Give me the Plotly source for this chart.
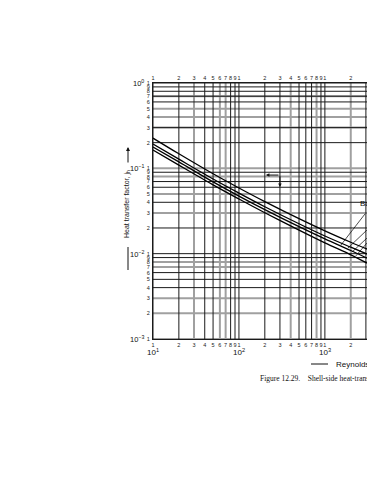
import math
import plotly.graph_objects as go

# ---- data ----
re_vals = [10, 20, 50, 100, 200, 500, 1000, 2000, 3090]
jh_line1 = [0.226, 0.148, 0.0863, 0.0588, 0.0407, 0.0257, 0.0185, 0.0136, 0.01132]
jh_line2 = [0.193, 0.128, 0.0750, 0.0513, 0.0355, 0.0224, 0.0161, 0.0119, 0.00989]
jh_line3 = [0.178, 0.119, 0.0693, 0.0473, 0.0328, 0.0207, 0.0149, 0.0109, 0.00887]
jh_line4 = [0.164, 0.109, 0.0640, 0.0437, 0.0302, 0.0189, 0.0134, 0.0097, 0.00776]

# leader lines from curves to the (cropped) baffle-cut labels: (Re0, jh0, Re1, jh1)
leader_lines = [
    (1535, 0.0126, 2920, 0.0291),
    (1850, 0.0116, 3080, 0.0189),
    (2060, 0.0104, 3080, 0.0152),
    (2290, 0.0094, 3080, 0.0133),
]

x_digits = ["1", "2", "3", "4", "5", "6", "7", "8", "9"]
x_decades = [10, 100, 1000]
y_decades = [0.001, 0.01, 0.1, 1]
x_tickvals = [m * d for d in x_decades for m in range(1, 10)]
x_ticktext = [x_digits[m - 1] for d in x_decades for m in range(1, 10)]
y_tickvals = [m * d for d in [0.001, 0.01, 0.1] for m in range(1, 10)] + [1]
y_ticktext = [str(m) for d in [0.001, 0.01, 0.1] for m in range(1, 10)] + ["1"]

x_gray = [30, 60, 70, 400, 800, 2000]
y_gray = [0.7, 0.5, 0.4, 0.3, 0.1, 0.08, 0.05, 0.03, 0.008, 0.007, 0.003, 0.002, 0.001]

XMIN, XMAX = 10, 3090
YMIN, YMAX = 0.001, 1.0

fig = go.Figure()

def grid_trace(vals, vertical, color, width):
    xs, ys = [], []
    for v in vals:
        if vertical:
            xs += [v, v, None]; ys += [YMIN, YMAX, None]
        else:
            xs += [XMIN, XMAX * 1.2, None]; ys += [v, v, None]
    return go.Scatter(x=xs, y=ys, mode="lines", line=dict(color=color, width=width),
                      hoverinfo="skip", showlegend=False)

x_black = [v for v in x_tickvals if v not in x_gray]
y_black = [v for v in y_tickvals if v not in y_gray]
fig.add_trace(grid_trace(x_gray, True, "#a0a0a0", 2))
fig.add_trace(grid_trace(y_gray, False, "#a0a0a0", 2))
fig.add_trace(grid_trace(x_black, True, "#1a1a1a", 1))
fig.add_trace(grid_trace(y_black, False, "#1a1a1a", 1))

for jh in [jh_line1, jh_line2, jh_line3, jh_line4]:
    fig.add_trace(go.Scatter(x=re_vals, y=jh, mode="lines", line=dict(color="black", width=1.3, shape="spline"),
                             showlegend=False, hoverinfo="skip"))

for (a, b, c, d) in leader_lines:
    fig.add_trace(go.Scatter(x=[a, c], y=[b, d], mode="lines", line=dict(color="black", width=0.7),
                             showlegend=False, hoverinfo="skip"))

# top axis trace (for the top digit labels)
fig.add_trace(go.Scatter(x=[XMIN, XMAX], y=[YMIN, YMIN], xaxis="x2", mode="lines",
                         line=dict(width=0), showlegend=False, hoverinfo="skip"))

W, H = 367, 480
L, R, T, B = 153, 0, 83, 141
pw, ph = W - L - R, H - T - B

def px(x):
    return (x - L) / pw

def py(y):
    return (H - B - y) / ph

font = "Liberation Sans, Arial, sans-serif"
axis_common = dict(type="log", range=[math.log10(XMIN), math.log10(XMAX)], tickvals=x_tickvals,
                   ticktext=x_ticktext, showgrid=False, zeroline=False, ticks="", tickangle=0,
                   tickfont=dict(size=5.5, family=font, color="#222"), showline=True,
                   linecolor="#1a1a1a", linewidth=1, ticklabelstandoff=0)
fig.update_layout(
    width=W, height=H, margin=dict(l=L, r=R, t=T, b=B),
    paper_bgcolor="white", plot_bgcolor="white",
    xaxis=dict(**axis_common, side="bottom"),
    xaxis2=dict(**axis_common, side="top", overlaying="x", matches="x"),
    yaxis=dict(type="log", range=[math.log10(YMIN), math.log10(YMAX)], tickvals=y_tickvals,
               ticktext=y_ticktext, showgrid=False, zeroline=False, ticks="", tickangle=0,
               tickfont=dict(size=5.5, family=font, color="#222"), showline=True,
               linecolor="#1a1a1a", linewidth=1, ticklabelstandoff=1),
)

ann = []
exps = {10: "1", 100: "2", 1000: "3"}
for d in x_decades:
    ann.append(dict(x=math.log10(d), y=py(352), xref="x", yref="paper", text="10<sup>%s</sup>" % exps[d],
                    showarrow=False, font=dict(size=8, family=font, color="#111"), xanchor="center", yanchor="middle"))
yexps = {0.001: "\u22123", 0.01: "\u22122", 0.1: "\u22121", 1: "0"}
for d in y_decades:
    ann.append(dict(x=px(146), y=math.log10(d), xref="paper", yref="y", text="10<sup>%s</sup>" % yexps[d],
                    showarrow=False, font=dict(size=7.5, family=font, color="#111"), xanchor="right", yanchor="middle"))

# y-axis title with arrow
ann.append(dict(x=px(127), y=py(204), xref="paper", yref="paper", text="Heat transfer factor, j<sub>h</sub>",
                textangle=-90, showarrow=False, xanchor="center", yanchor="middle",
                font=dict(size=7, family=font, color="#111")))
ann.append(dict(x=px(128), y=py(147), xref="paper", yref="paper", text="", showarrow=True, ax=0, ay=17,
                arrowhead=2, arrowsize=0.8, arrowwidth=1, arrowcolor="#111"))

# bracket arrows in the plot
ann.append(dict(x=math.log10(206), y=math.log10(0.0834), xref="x", yref="y", text="", showarrow=True,
                axref="x", ayref="y", ax=math.log10(300), ay=math.log10(0.0834),
                arrowhead=2, arrowsize=0.7, arrowwidth=1, arrowcolor="#111"))
ann.append(dict(x=math.log10(300), y=math.log10(0.0604), xref="x", yref="y", text="", showarrow=True,
                axref="x", ayref="y", ax=math.log10(300), ay=math.log10(0.0834),
                arrowhead=2, arrowsize=0.7, arrowwidth=1, arrowcolor="#111"))

# cropped baffle-cut label
ann.append(dict(x=math.log10(2400), y=math.log10(0.039), xref="x", yref="y", text="Baffle cuts, per cent",
                showarrow=False, xanchor="left", yanchor="middle", font=dict(size=8, family=font, color="#111")))

# x title and caption
ann.append(dict(x=px(334), y=py(364), xref="paper", yref="paper", text="Reynolds number, Re",
                showarrow=False, xanchor="left", yanchor="middle", font=dict(size=8, family=font, color="#111")))
ann.append(dict(x=px(258), y=py(378), xref="paper", yref="paper",
                text="Figure 12.29.    Shell-side heat-transfer factors, segmental baffles",
                showarrow=False, xanchor="left", yanchor="middle",
                font=dict(size=7.5, family="Liberation Serif, serif", color="#111")))
fig.update_layout(annotations=ann)

fig.add_shape(type="line", xref="paper", yref="paper", x0=px(128), x1=px(128), y0=py(247), y1=py(270),
              line=dict(color="#111", width=1))
fig.add_shape(type="line", xref="paper", yref="paper", x0=px(311), x1=px(328), y0=py(364), y1=py(364),
              line=dict(color="#111", width=1))

fig.write_html("out.html")
